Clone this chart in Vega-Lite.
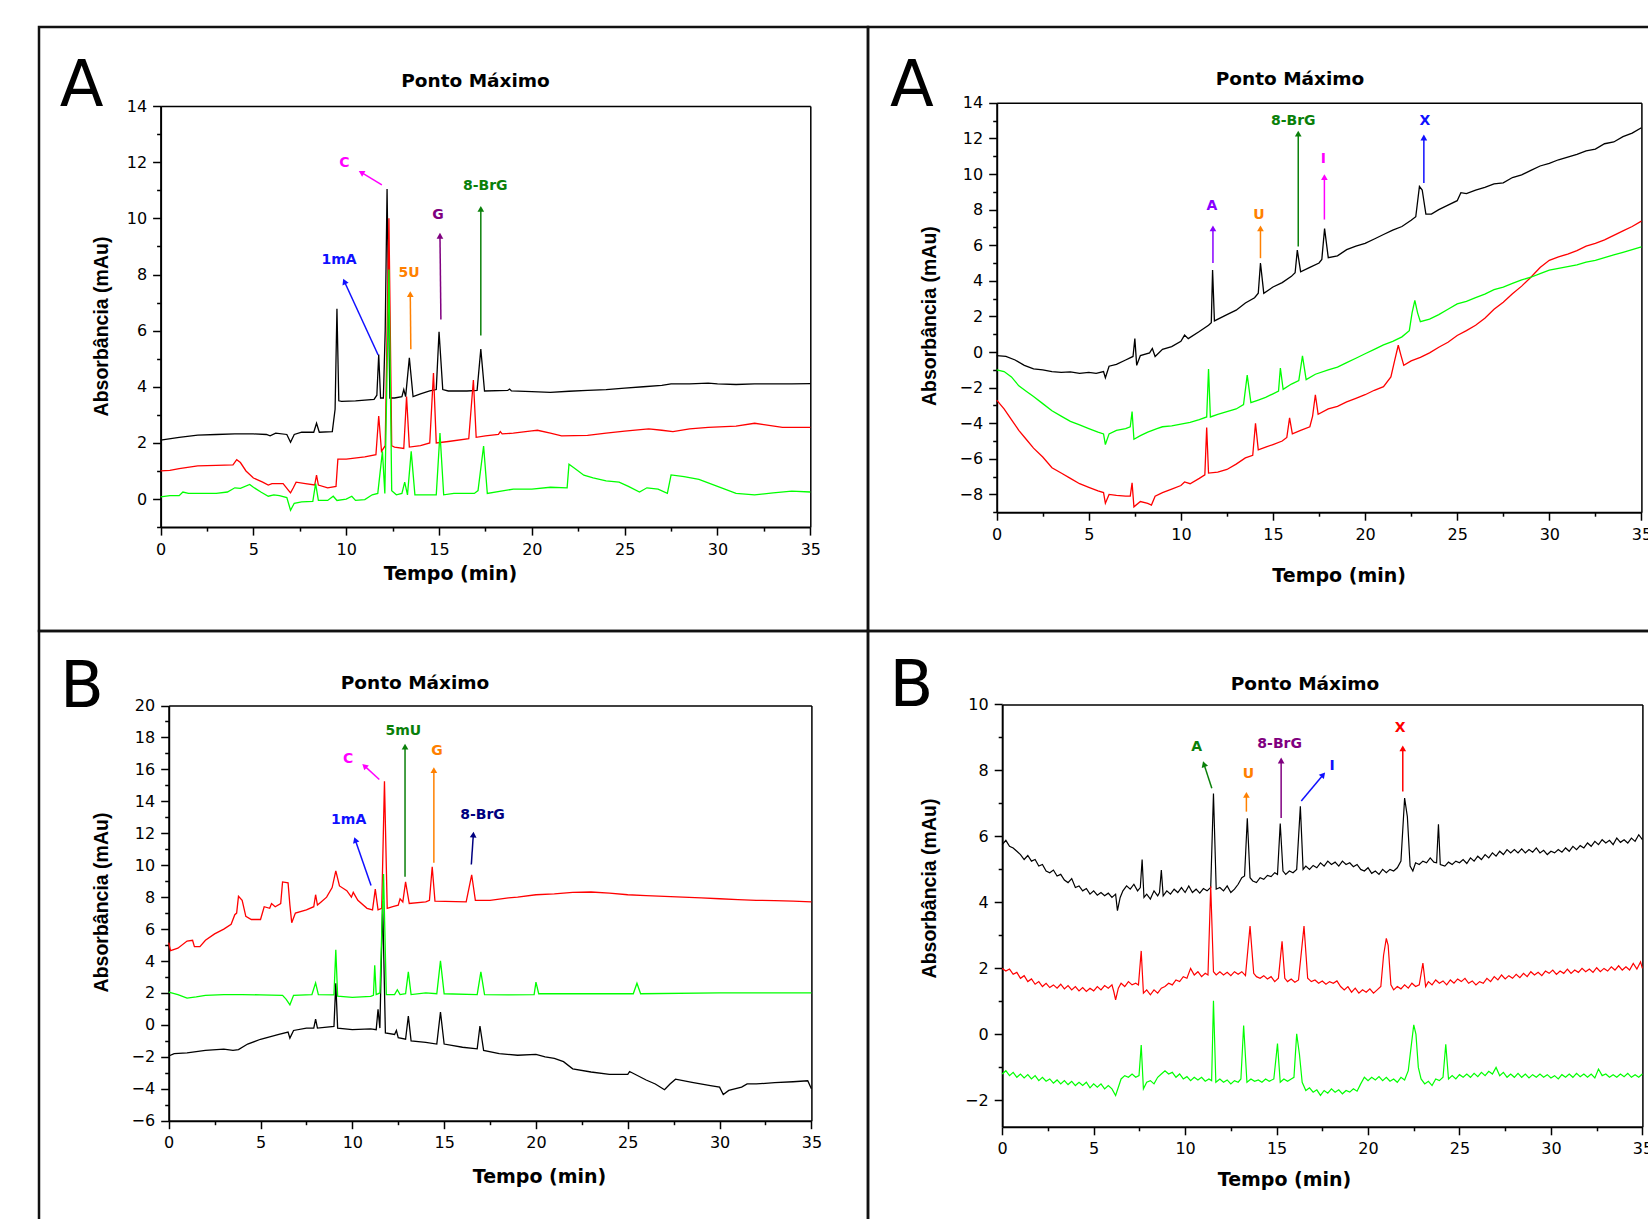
{
"$schema":"https://vega.github.io/schema/vega-lite/v6.json",
"padding":{"left":37,"top":25,"right":0,"bottom":0},
"background":"white",
"config":{
 "view":{"stroke":"#111111","strokeWidth":2.5},
 "concat":{"spacing":0},
 "axis":{"grid":false,"domainColor":"#000000","domainWidth":2,"tickColor":"#000000","tickWidth":1.5,"labelFont":"DejaVu Sans","labelFontSize":16,"labelColor":"#000000","labelFlush":false,"labelOverlap":false,"titleColor":"#000000"},
 "axisX":{"titleFont":"DejaVu Sans","titleFontSize":19,"titleFontWeight":"bold","titleBaseline":"alphabetic"},
 "axisY":{"titleFont":"Liberation Sans","titleFontSize":19.5,"titleFontWeight":"bold","titleBaseline":"alphabetic"},
 "title":{"font":"DejaVu Sans","fontSize":18.5,"fontWeight":"bold","color":"#000000","anchor":"middle","frame":"group","baseline":"alphabetic"},
 "text":{"font":"DejaVu Sans"}
},
"columns":2,
"spacing":0,
"bounds":"flush",
"concat":[
{
 "width":829,"height":604,
 "title":{"text":"Ponto Máximo","offset":-63,"dx":22},
 "layer":[
  {"data":{"name":"tl"},"mark":{"type":"line","strokeWidth":1.3},
   "encoding":{
    "x":{"field":"t","type":"quantitative","scale":{"domain":[0,35],"range":[121.6,771.3],"nice":false,"zero":false},"axis":{"orient":"bottom","offset":-103.9,"values":[0,5,10,15,20,25,30,35],"tickSize":8,"labelPadding":6,"title":"Tempo (min)","titleX":411,"titleY":52}},
    "y":{"field":"v","type":"quantitative","scale":{"domain":[-1,14],"range":[500.1,79.1],"nice":false,"zero":false},"axis":{"orient":"left","offset":-121.6,"values":[0,2,4,6,8,10,12,14],"tickSize":8,"labelPadding":6,"title":"Absorbância (mAu)","titleX":-53.6,"titleY":299}},
    "color":{"field":"s","type":"nominal","scale":{"domain":[1,2,3],"range":["#000000","#ff0000","#00ff00"]},"legend":null}}},
  {"data":{"name":"tlA"},"mark":{"type":"rule","strokeWidth":1.5},
   "encoding":{
    "x":{"field":"x1","type":"quantitative","scale":{"domain":[0,35],"range":[121.6,771.3],"nice":false,"zero":false},"axis":{"orient":"bottom","offset":-103.9,"values":[2.5,7.5,12.5,17.5,22.5,27.5,32.5],"tickSize":4,"labels":false,"domain":false,"title":null}},
    "y":{"field":"y1","type":"quantitative","scale":{"domain":[-1,14],"range":[500.1,79.1],"nice":false,"zero":false},"axis":{"orient":"left","offset":-121.6,"values":[-1,1,3,5,7,9,11,13],"tickSize":4,"labels":false,"domain":false,"title":null}},
    "x2":{"field":"x2"},"y2":{"field":"y2"},
    "color":{"field":"lab","type":"nominal","scale":{"domain":["C","1mA","5U","G","8-BrG"],"range":["#ff00ff","#1010ff","#ff8000","#800080","#0a800a"]},"legend":null}}},
  {"data":{"name":"tlA"},"mark":{"type":"text","fontWeight":"bold","fontSize":14,"baseline":"middle"},
   "encoding":{
    "x":{"field":"lx","type":"quantitative","scale":{"domain":[0,35],"range":[121.6,771.3],"nice":false,"zero":false},"axis":{"orient":"top","offset":-79.1,"ticks":false,"labels":false,"title":null,"domainWidth":1.5}},
    "y":{"field":"ly","type":"quantitative","scale":{"domain":[-1,14],"range":[500.1,79.1],"nice":false,"zero":false},"axis":{"orient":"right","offset":-57.7,"ticks":false,"labels":false,"title":null,"domainWidth":1.5}},
    "text":{"field":"lab"},
    "color":{"field":"lab","type":"nominal","scale":{"domain":["C","1mA","5U","G","8-BrG"],"range":["#ff00ff","#1010ff","#ff8000","#800080","#0a800a"]},"legend":null}}},
  {"data":{"name":"tlA"},"transform":[{"filter":{"field":"lab","oneOf":["5U","G","8-BrG"]}}],"mark":{"type":"point","shape":"triangle-up","filled":true,"size":45,"opacity":1},
   "encoding":{"x":{"field":"x2","type":"quantitative","scale":{"domain":[0,35],"range":[121.6,771.3],"nice":false,"zero":false},"axis":null},"y":{"field":"y2","type":"quantitative","scale":{"domain":[-1,14],"range":[500.1,79.1],"nice":false,"zero":false},"axis":null},"color":{"field":"lab","type":"nominal","scale":{"domain":["C","1mA","5U","G","8-BrG"],"range":["#ff00ff","#1010ff","#ff8000","#800080","#0a800a"]},"legend":null}}},
  {"data":{"name":"tlA"},"transform":[{"filter":{"field":"lab","equal":"C"}}],"mark":{"type":"point","shape":"triangle-up","filled":true,"size":45,"opacity":1,"angle":-60},
   "encoding":{"x":{"field":"x2","type":"quantitative","scale":{"domain":[0,35],"range":[121.6,771.3],"nice":false,"zero":false},"axis":null},"y":{"field":"y2","type":"quantitative","scale":{"domain":[-1,14],"range":[500.1,79.1],"nice":false,"zero":false},"axis":null},"color":{"field":"lab","type":"nominal","scale":{"domain":["C","1mA","5U","G","8-BrG"],"range":["#ff00ff","#1010ff","#ff8000","#800080","#0a800a"]},"legend":null}}},
  {"data":{"name":"tlA"},"transform":[{"filter":{"field":"lab","equal":"1mA"}}],"mark":{"type":"point","shape":"triangle-up","filled":true,"size":45,"opacity":1,"angle":-24},
   "encoding":{"x":{"field":"x2","type":"quantitative","scale":{"domain":[0,35],"range":[121.6,771.3],"nice":false,"zero":false},"axis":null},"y":{"field":"y2","type":"quantitative","scale":{"domain":[-1,14],"range":[500.1,79.1],"nice":false,"zero":false},"axis":null},"color":{"field":"lab","type":"nominal","scale":{"domain":["C","1mA","5U","G","8-BrG"],"range":["#ff00ff","#1010ff","#ff8000","#800080","#0a800a"]},"legend":null}}},
  {"data":{"values":[{"L":"A","x":-4.25,"y":14}]},"mark":{"type":"text","fontSize":64,"baseline":"alphabetic","color":"#000000"},
   "encoding":{"x":{"field":"x","type":"quantitative","scale":{"domain":[0,35],"range":[121.6,771.3],"nice":false,"zero":false},"axis":null},"y":{"field":"y","type":"quantitative","scale":{"domain":[-1,14],"range":[500.1,79.1],"nice":false,"zero":false},"axis":null},"text":{"field":"L"}}}
 ],
 "resolve":{"scale":{"color":"independent"},"axis":{"x":"independent","y":"independent"}}
},
{
 "width":829,"height":604,
 "title":{"text":"Ponto Máximo","offset":-61,"dx":7.5},
 "layer":[
  {"data":{"name":"tr"},"mark":{"type":"line","strokeWidth":1.3},
   "encoding":{
    "x":{"field":"t","type":"quantitative","scale":{"domain":[0,35],"range":[128.7,773.4],"nice":false,"zero":false},"axis":{"orient":"bottom","offset":-118.8,"values":[0,5,10,15,20,25,30,35],"tickSize":8,"labelPadding":6,"title":"Tempo (min)","titleX":470.6,"titleY":69}},
    "y":{"field":"v","type":"quantitative","scale":{"domain":[-9,14],"range":[485.2,75.8],"nice":false,"zero":false},"axis":{"orient":"left","offset":-128.7,"values":[-8,-6,-4,-2,0,2,4,6,8,10,12,14],"tickSize":8,"labelPadding":6,"title":"Absorbância (mAu)","titleX":-61.7,"titleY":288.6}},
    "color":{"field":"s","type":"nominal","scale":{"domain":[1,2,3],"range":["#000000","#ff0000","#00ff00"]},"legend":null}}},
  {"data":{"name":"trA"},"mark":{"type":"rule","strokeWidth":1.5},
   "encoding":{
    "x":{"field":"x1","type":"quantitative","scale":{"domain":[0,35],"range":[128.7,773.4],"nice":false,"zero":false},"axis":{"orient":"bottom","offset":-118.8,"values":[2.5,7.5,12.5,17.5,22.5,27.5,32.5],"tickSize":4,"labels":false,"domain":false,"title":null}},
    "y":{"field":"y1","type":"quantitative","scale":{"domain":[-9,14],"range":[485.2,75.8],"nice":false,"zero":false},"axis":{"orient":"left","offset":-128.7,"values":[-9,-7,-5,-3,-1,1,3,5,7,9,11,13],"tickSize":4,"labels":false,"domain":false,"title":null}},
    "x2":{"field":"x2"},"y2":{"field":"y2"},
    "color":{"field":"lab","type":"nominal","scale":{"domain":["A","U","8-BrG","I","X"],"range":["#8800ff","#ff8000","#0a800a","#ff00ff","#1010ff"]},"legend":null}}},
  {"data":{"name":"trA"},"mark":{"type":"text","fontWeight":"bold","fontSize":14,"baseline":"middle"},
   "encoding":{
    "x":{"field":"lx","type":"quantitative","scale":{"domain":[0,35],"range":[128.7,773.4],"nice":false,"zero":false},"axis":{"orient":"top","offset":-75.8,"ticks":false,"labels":false,"title":null,"domainWidth":1.5}},
    "y":{"field":"ly","type":"quantitative","scale":{"domain":[-9,14],"range":[485.2,75.8],"nice":false,"zero":false},"axis":{"orient":"right","offset":-55.6,"ticks":false,"labels":false,"title":null,"domainWidth":1.5}},
    "text":{"field":"lab"},
    "color":{"field":"lab","type":"nominal","scale":{"domain":["A","U","8-BrG","I","X"],"range":["#8800ff","#ff8000","#0a800a","#ff00ff","#1010ff"]},"legend":null}}},
  {"data":{"name":"trA"},"mark":{"type":"point","shape":"triangle-up","filled":true,"size":45,"opacity":1},
   "encoding":{"x":{"field":"x2","type":"quantitative","scale":{"domain":[0,35],"range":[128.7,773.4],"nice":false,"zero":false},"axis":null},"y":{"field":"y2","type":"quantitative","scale":{"domain":[-9,14],"range":[485.2,75.8],"nice":false,"zero":false},"axis":null},"color":{"field":"lab","type":"nominal","scale":{"domain":["A","U","8-BrG","I","X"],"range":["#8800ff","#ff8000","#0a800a","#ff00ff","#1010ff"]},"legend":null}}},
  {"data":{"values":[{"L":"A","x":-4.6,"y":13.82}]},"mark":{"type":"text","fontSize":64,"baseline":"alphabetic","color":"#000000"},
   "encoding":{"x":{"field":"x","type":"quantitative","scale":{"domain":[0,35],"range":[128.7,773.4],"nice":false,"zero":false},"axis":null},"y":{"field":"y","type":"quantitative","scale":{"domain":[-9,14],"range":[485.2,75.8],"nice":false,"zero":false},"axis":null},"text":{"field":"L"}}}
 ],
 "resolve":{"scale":{"color":"independent"},"axis":{"x":"independent","y":"independent"}}
},
{
 "width":829,"height":604,
 "title":{"text":"Ponto Máximo","offset":-61,"dx":-38.5},
 "layer":[
  {"data":{"name":"bl"},"mark":{"type":"line","strokeWidth":1.3},
   "encoding":{
    "x":{"field":"t","type":"quantitative","scale":{"domain":[0,35],"range":[129.7,772.4],"nice":false,"zero":false},"axis":{"orient":"bottom","offset":-114.3,"values":[0,5,10,15,20,25,30,35],"tickSize":8,"labelPadding":6,"title":"Tempo (min)","titleX":500,"titleY":62}},
    "y":{"field":"v","type":"quantitative","scale":{"domain":[-6,20],"range":[489.7,74.5],"nice":false,"zero":false},"axis":{"orient":"left","offset":-129.7,"values":[-6,-4,-2,0,2,4,6,8,10,12,14,16,18,20],"tickSize":8,"labelPadding":6,"title":"Absorbância (mAu)","titleX":-61.7,"titleY":271}},
    "color":{"field":"s","type":"nominal","scale":{"domain":[1,2,3],"range":["#000000","#ff0000","#00ff00"]},"legend":null}}},
  {"data":{"name":"blA"},"mark":{"type":"rule","strokeWidth":1.5},
   "encoding":{
    "x":{"field":"x1","type":"quantitative","scale":{"domain":[0,35],"range":[129.7,772.4],"nice":false,"zero":false},"axis":{"orient":"bottom","offset":-114.3,"values":[2.5,7.5,12.5,17.5,22.5,27.5,32.5],"tickSize":4,"labels":false,"domain":false,"title":null}},
    "y":{"field":"y1","type":"quantitative","scale":{"domain":[-6,20],"range":[489.7,74.5],"nice":false,"zero":false},"axis":{"orient":"left","offset":-129.7,"values":[-5,-3,-1,1,3,5,7,9,11,13,15,17,19],"tickSize":4,"labels":false,"domain":false,"title":null}},
    "x2":{"field":"x2"},"y2":{"field":"y2"},
    "color":{"field":"lab","type":"nominal","scale":{"domain":["C","1mA","5mU","G","8-BrG"],"range":["#ff00ff","#1010ff","#0a800a","#ff8000","#000080"]},"legend":null}}},
  {"data":{"name":"blA"},"mark":{"type":"text","fontWeight":"bold","fontSize":14,"baseline":"middle"},
   "encoding":{
    "x":{"field":"lx","type":"quantitative","scale":{"domain":[0,35],"range":[129.7,772.4],"nice":false,"zero":false},"axis":{"orient":"top","offset":-74.5,"ticks":false,"labels":false,"title":null,"domainWidth":1.5}},
    "y":{"field":"ly","type":"quantitative","scale":{"domain":[-6,20],"range":[489.7,74.5],"nice":false,"zero":false},"axis":{"orient":"right","offset":-56.6,"ticks":false,"labels":false,"title":null,"domainWidth":1.5}},
    "text":{"field":"lab"},
    "color":{"field":"lab","type":"nominal","scale":{"domain":["C","1mA","5mU","G","8-BrG"],"range":["#ff00ff","#1010ff","#0a800a","#ff8000","#000080"]},"legend":null}}},
  {"data":{"name":"blA"},"transform":[{"filter":{"field":"lab","oneOf":["5mU","G"]}}],"mark":{"type":"point","shape":"triangle-up","filled":true,"size":45,"opacity":1},
   "encoding":{"x":{"field":"x2","type":"quantitative","scale":{"domain":[0,35],"range":[129.7,772.4],"nice":false,"zero":false},"axis":null},"y":{"field":"y2","type":"quantitative","scale":{"domain":[-6,20],"range":[489.7,74.5],"nice":false,"zero":false},"axis":null},"color":{"field":"lab","type":"nominal","scale":{"domain":["C","1mA","5mU","G","8-BrG"],"range":["#ff00ff","#1010ff","#0a800a","#ff8000","#000080"]},"legend":null}}},
  {"data":{"name":"blA"},"transform":[{"filter":{"field":"lab","equal":"C"}}],"mark":{"type":"point","shape":"triangle-up","filled":true,"size":45,"opacity":1,"angle":-47},
   "encoding":{"x":{"field":"x2","type":"quantitative","scale":{"domain":[0,35],"range":[129.7,772.4],"nice":false,"zero":false},"axis":null},"y":{"field":"y2","type":"quantitative","scale":{"domain":[-6,20],"range":[489.7,74.5],"nice":false,"zero":false},"axis":null},"color":{"field":"lab","type":"nominal","scale":{"domain":["C","1mA","5mU","G","8-BrG"],"range":["#ff00ff","#1010ff","#0a800a","#ff8000","#000080"]},"legend":null}}},
  {"data":{"name":"blA"},"transform":[{"filter":{"field":"lab","equal":"1mA"}}],"mark":{"type":"point","shape":"triangle-up","filled":true,"size":45,"opacity":1,"angle":-19},
   "encoding":{"x":{"field":"x2","type":"quantitative","scale":{"domain":[0,35],"range":[129.7,772.4],"nice":false,"zero":false},"axis":null},"y":{"field":"y2","type":"quantitative","scale":{"domain":[-6,20],"range":[489.7,74.5],"nice":false,"zero":false},"axis":null},"color":{"field":"lab","type":"nominal","scale":{"domain":["C","1mA","5mU","G","8-BrG"],"range":["#ff00ff","#1010ff","#0a800a","#ff8000","#000080"]},"legend":null}}},
  {"data":{"name":"blA"},"transform":[{"filter":{"field":"lab","equal":"8-BrG"}}],"mark":{"type":"point","shape":"triangle-up","filled":true,"size":45,"opacity":1,"angle":4},
   "encoding":{"x":{"field":"x2","type":"quantitative","scale":{"domain":[0,35],"range":[129.7,772.4],"nice":false,"zero":false},"axis":null},"y":{"field":"y2","type":"quantitative","scale":{"domain":[-6,20],"range":[489.7,74.5],"nice":false,"zero":false},"axis":null},"color":{"field":"lab","type":"nominal","scale":{"domain":["C","1mA","5mU","G","8-BrG"],"range":["#ff00ff","#1010ff","#0a800a","#ff8000","#000080"]},"legend":null}}},
  {"data":{"values":[{"L":"B","x":-4.72,"y":19.9}]},"mark":{"type":"text","fontSize":64,"baseline":"alphabetic","color":"#000000"},
   "encoding":{"x":{"field":"x","type":"quantitative","scale":{"domain":[0,35],"range":[129.7,772.4],"nice":false,"zero":false},"axis":null},"y":{"field":"y","type":"quantitative","scale":{"domain":[-6,20],"range":[489.7,74.5],"nice":false,"zero":false},"axis":null},"text":{"field":"L"}}}
 ],
 "resolve":{"scale":{"color":"independent"},"axis":{"x":"independent","y":"independent"}}
},
{
 "width":829,"height":604,
 "title":{"text":"Ponto Máximo","offset":-62,"dx":22.5},
 "layer":[
  {"data":{"name":"br"},"mark":{"type":"line","strokeWidth":1.2},
   "encoding":{
    "x":{"field":"t","type":"quantitative","scale":{"domain":[0,35],"range":[134.2,774.4],"nice":false,"zero":false},"axis":{"orient":"bottom","offset":-108.2,"values":[0,5,10,15,20,25,30,35],"tickSize":8,"labelPadding":6,"title":"Tempo (min)","titleX":416,"titleY":59}},
    "y":{"field":"v","type":"quantitative","scale":{"domain":[-2.8,10],"range":[495.8,73.4],"nice":false,"zero":false},"axis":{"orient":"left","offset":-134.2,"values":[-2,0,2,4,6,8,10],"tickSize":8,"labelPadding":6,"title":"Absorbância (mAu)","titleX":-67.2,"titleY":257}},
    "color":{"field":"s","type":"nominal","scale":{"domain":[1,2,3],"range":["#000000","#ff0000","#00ff00"]},"legend":null}}},
  {"data":{"name":"brA"},"mark":{"type":"rule","strokeWidth":1.5},
   "encoding":{
    "x":{"field":"x1","type":"quantitative","scale":{"domain":[0,35],"range":[134.2,774.4],"nice":false,"zero":false},"axis":{"orient":"bottom","offset":-108.2,"values":[2.5,7.5,12.5,17.5,22.5,27.5,32.5],"tickSize":4,"labels":false,"domain":false,"title":null}},
    "y":{"field":"y1","type":"quantitative","scale":{"domain":[-2.8,10],"range":[495.8,73.4],"nice":false,"zero":false},"axis":{"orient":"left","offset":-134.2,"values":[-1,1,3,5,7,9],"tickSize":4,"labels":false,"domain":false,"title":null}},
    "x2":{"field":"x2"},"y2":{"field":"y2"},
    "color":{"field":"lab","type":"nominal","scale":{"domain":["A","U","8-BrG","I","X"],"range":["#0a800a","#ff8000","#800080","#1010ff","#ff0000"]},"legend":null}}},
  {"data":{"name":"brA"},"mark":{"type":"text","fontWeight":"bold","fontSize":14,"baseline":"middle"},
   "encoding":{
    "x":{"field":"lx","type":"quantitative","scale":{"domain":[0,35],"range":[134.2,774.4],"nice":false,"zero":false},"axis":{"orient":"top","offset":-73.4,"ticks":false,"labels":false,"title":null,"domainWidth":1.5}},
    "y":{"field":"ly","type":"quantitative","scale":{"domain":[-2.8,10],"range":[495.8,73.4],"nice":false,"zero":false},"axis":{"orient":"right","offset":-54.6,"ticks":false,"labels":false,"title":null,"domainWidth":1.5}},
    "text":{"field":"lab"},
    "color":{"field":"lab","type":"nominal","scale":{"domain":["A","U","8-BrG","I","X"],"range":["#0a800a","#ff8000","#800080","#1010ff","#ff0000"]},"legend":null}}},
  {"data":{"name":"brA"},"transform":[{"filter":{"field":"lab","oneOf":["U","8-BrG","X"]}}],"mark":{"type":"point","shape":"triangle-up","filled":true,"size":45,"opacity":1},
   "encoding":{"x":{"field":"x2","type":"quantitative","scale":{"domain":[0,35],"range":[134.2,774.4],"nice":false,"zero":false},"axis":null},"y":{"field":"y2","type":"quantitative","scale":{"domain":[-2.8,10],"range":[495.8,73.4],"nice":false,"zero":false},"axis":null},"color":{"field":"lab","type":"nominal","scale":{"domain":["A","U","8-BrG","I","X"],"range":["#0a800a","#ff8000","#800080","#1010ff","#ff0000"]},"legend":null}}},
  {"data":{"name":"brA"},"transform":[{"filter":{"field":"lab","equal":"A"}}],"mark":{"type":"point","shape":"triangle-up","filled":true,"size":45,"opacity":1,"angle":-18},
   "encoding":{"x":{"field":"x2","type":"quantitative","scale":{"domain":[0,35],"range":[134.2,774.4],"nice":false,"zero":false},"axis":null},"y":{"field":"y2","type":"quantitative","scale":{"domain":[-2.8,10],"range":[495.8,73.4],"nice":false,"zero":false},"axis":null},"color":{"field":"lab","type":"nominal","scale":{"domain":["A","U","8-BrG","I","X"],"range":["#0a800a","#ff8000","#800080","#1010ff","#ff0000"]},"legend":null}}},
  {"data":{"name":"brA"},"transform":[{"filter":{"field":"lab","equal":"I"}}],"mark":{"type":"point","shape":"triangle-up","filled":true,"size":45,"opacity":1,"angle":40},
   "encoding":{"x":{"field":"x2","type":"quantitative","scale":{"domain":[0,35],"range":[134.2,774.4],"nice":false,"zero":false},"axis":null},"y":{"field":"y2","type":"quantitative","scale":{"domain":[-2.8,10],"range":[495.8,73.4],"nice":false,"zero":false},"axis":null},"color":{"field":"lab","type":"nominal","scale":{"domain":["A","U","8-BrG","I","X"],"range":["#0a800a","#ff8000","#800080","#1010ff","#ff0000"]},"legend":null}}},
  {"data":{"values":[{"L":"B","x":-4.96,"y":9.95}]},"mark":{"type":"text","fontSize":64,"baseline":"alphabetic","color":"#000000"},
   "encoding":{"x":{"field":"x","type":"quantitative","scale":{"domain":[0,35],"range":[134.2,774.4],"nice":false,"zero":false},"axis":null},"y":{"field":"y","type":"quantitative","scale":{"domain":[-2.8,10],"range":[495.8,73.4],"nice":false,"zero":false},"axis":null},"text":{"field":"L"}}}
 ],
 "resolve":{"scale":{"color":"independent"},"axis":{"x":"independent","y":"independent"}}
}
],
"datasets":{
"tlA":[
{"lab":"C","lx":9.9,"ly":11.99,"x1":11.92,"y1":11.19,"x2":10.81,"y2":11.64},
{"lab":"1mA","lx":9.61,"ly":8.51,"x1":11.72,"y1":5.13,"x2":9.9,"y2":7.75},
{"lab":"5U","lx":13.39,"ly":8.04,"x1":13.48,"y1":5.34,"x2":13.45,"y2":7.3},
{"lab":"G","lx":14.95,"ly":10.13,"x1":15.1,"y1":6.4,"x2":15.05,"y2":9.38},
{"lab":"8-BrG","lx":17.49,"ly":11.14,"x1":17.25,"y1":5.83,"x2":17.25,"y2":10.34}
],
"trA":[
{"lab":"A","lx":11.68,"ly":8.2,"x1":11.74,"y1":5.0,"x2":11.74,"y2":6.94},
{"lab":"U","lx":14.24,"ly":7.71,"x1":14.32,"y1":5.27,"x2":14.32,"y2":6.94},
{"lab":"8-BrG","lx":16.1,"ly":12.98,"x1":16.37,"y1":5.93,"x2":16.37,"y2":12.27},
{"lab":"I","lx":17.73,"ly":10.87,"x1":17.79,"y1":7.44,"x2":17.79,"y2":9.82},
{"lab":"X","lx":23.24,"ly":12.98,"x1":23.19,"y1":9.49,"x2":23.19,"y2":12.05}
],
"blA":[
{"lab":"C","lx":9.77,"ly":16.68,"x1":11.47,"y1":15.37,"x2":10.66,"y2":16.22},
{"lab":"1mA","lx":9.8,"ly":12.84,"x1":11.02,"y1":8.73,"x2":10.16,"y2":11.58},
{"lab":"5mU","lx":12.78,"ly":18.43,"x1":12.87,"y1":9.27,"x2":12.87,"y2":17.42},
{"lab":"G","lx":14.61,"ly":17.15,"x1":14.44,"y1":10.16,"x2":14.44,"y2":15.95},
{"lab":"8-BrG","lx":17.09,"ly":13.12,"x1":16.48,"y1":10.04,"x2":16.59,"y2":11.92}
],
"brA":[
{"lab":"A","lx":10.63,"ly":8.7,"x1":11.46,"y1":7.46,"x2":11.03,"y2":8.19},
{"lab":"U","lx":13.46,"ly":7.9,"x1":13.35,"y1":6.75,"x2":13.35,"y2":7.26},
{"lab":"8-BrG","lx":15.17,"ly":8.79,"x1":15.25,"y1":6.56,"x2":15.25,"y2":8.3},
{"lab":"I","lx":18.03,"ly":8.13,"x1":16.35,"y1":7.07,"x2":17.55,"y2":7.87},
{"lab":"X","lx":21.76,"ly":9.28,"x1":21.9,"y1":7.36,"x2":21.9,"y2":8.67}
],
"tl":[
{"s":1,"t":0,"v":2.1},{"s":1,"t":1,"v":2.2},{"s":1,"t":2,"v":2.28},{"s":1,"t":3,"v":2.3},{"s":1,"t":4,"v":2.32},{"s":1,"t":5,"v":2.32},{"s":1,"t":5.7,"v":2.3},{"s":1,"t":5.9,"v":2.25},{"s":1,"t":6.2,"v":2.35},{"s":1,"t":6.8,"v":2.3},{"s":1,"t":7.0,"v":2.02},{"s":1,"t":7.2,"v":2.3},{"s":1,"t":7.6,"v":2.38},{"s":1,"t":8.25,"v":2.38},{"s":1,"t":8.4,"v":2.7},{"s":1,"t":8.55,"v":2.38},{"s":1,"t":9.25,"v":2.4},{"s":1,"t":9.4,"v":3.2},{"s":1,"t":9.5,"v":6.78},{"s":1,"t":9.6,"v":3.5},{"s":1,"t":9.75,"v":3.48},{"s":1,"t":10.5,"v":3.5},{"s":1,"t":11.5,"v":3.55},{"s":1,"t":11.65,"v":3.7},{"s":1,"t":11.75,"v":5.15},{"s":1,"t":11.85,"v":3.6},{"s":1,"t":12.0,"v":3.6},{"s":1,"t":12.1,"v":6.0},{"s":1,"t":12.2,"v":11.05},{"s":1,"t":12.35,"v":3.6},{"s":1,"t":12.6,"v":3.6},{"s":1,"t":13.0,"v":3.65},{"s":1,"t":13.1,"v":3.9},{"s":1,"t":13.2,"v":3.65},{"s":1,"t":13.4,"v":5.03},{"s":1,"t":13.6,"v":3.65},{"s":1,"t":14.0,"v":3.75},{"s":1,"t":14.5,"v":3.85},{"s":1,"t":14.85,"v":3.9},{"s":1,"t":15.0,"v":5.96},{"s":1,"t":15.2,"v":3.9},{"s":1,"t":15.5,"v":3.85},{"s":1,"t":16.5,"v":3.85},{"s":1,"t":17.05,"v":3.87},{"s":1,"t":17.25,"v":5.34},{"s":1,"t":17.45,"v":3.85},{"s":1,"t":18.7,"v":3.87},{"s":1,"t":18.8,"v":3.92},{"s":1,"t":18.9,"v":3.85},{"s":1,"t":20,"v":3.83},{"s":1,"t":21,"v":3.8},{"s":1,"t":22,"v":3.84},{"s":1,"t":23,"v":3.87},{"s":1,"t":24,"v":3.9},{"s":1,"t":25,"v":3.95},{"s":1,"t":26,"v":4.0},{"s":1,"t":27,"v":4.05},{"s":1,"t":27.5,"v":4.1},{"s":1,"t":28.5,"v":4.1},{"s":1,"t":29.5,"v":4.13},{"s":1,"t":30,"v":4.1},{"s":1,"t":31,"v":4.08},{"s":1,"t":32,"v":4.1},{"s":1,"t":33,"v":4.1},{"s":1,"t":34,"v":4.1},{"s":1,"t":35,"v":4.11},
{"s":2,"t":0,"v":1.0},{"s":2,"t":0.5,"v":1.02},{"s":2,"t":1,"v":1.08},{"s":2,"t":2,"v":1.18},{"s":2,"t":3,"v":1.2},{"s":2,"t":3.9,"v":1.22},{"s":2,"t":4.1,"v":1.4},{"s":2,"t":4.3,"v":1.3},{"s":2,"t":4.6,"v":1.0},{"s":2,"t":5.0,"v":0.75},{"s":2,"t":5.5,"v":0.6},{"s":2,"t":5.8,"v":0.5},{"s":2,"t":6.0,"v":0.55},{"s":2,"t":6.6,"v":0.55},{"s":2,"t":6.9,"v":0.3},{"s":2,"t":7.0,"v":0.22},{"s":2,"t":7.15,"v":0.4},{"s":2,"t":7.3,"v":0.6},{"s":2,"t":7.8,"v":0.55},{"s":2,"t":8.3,"v":0.5},{"s":2,"t":8.4,"v":0.85},{"s":2,"t":8.5,"v":0.5},{"s":2,"t":9.0,"v":0.4},{"s":2,"t":9.45,"v":0.45},{"s":2,"t":9.55,"v":1.42},{"s":2,"t":10,"v":1.42},{"s":2,"t":11,"v":1.5},{"s":2,"t":11.6,"v":1.58},{"s":2,"t":11.75,"v":2.96},{"s":2,"t":11.9,"v":1.7},{"s":2,"t":12.1,"v":1.9},{"s":2,"t":12.3,"v":10.0},{"s":2,"t":12.45,"v":1.9},{"s":2,"t":12.6,"v":1.85},{"s":2,"t":13.1,"v":1.8},{"s":2,"t":13.25,"v":3.65},{"s":2,"t":13.4,"v":1.85},{"s":2,"t":14.0,"v":1.9},{"s":2,"t":14.5,"v":2.0},{"s":2,"t":14.7,"v":4.49},{"s":2,"t":14.85,"v":2.0},{"s":2,"t":15.5,"v":2.05},{"s":2,"t":16.6,"v":2.15},{"s":2,"t":16.85,"v":4.24},{"s":2,"t":17.0,"v":2.2},{"s":2,"t":17.5,"v":2.25},{"s":2,"t":18.2,"v":2.3},{"s":2,"t":18.3,"v":2.4},{"s":2,"t":18.4,"v":2.32},{"s":2,"t":19,"v":2.35},{"s":2,"t":20,"v":2.43},{"s":2,"t":20.3,"v":2.45},{"s":2,"t":21,"v":2.35},{"s":2,"t":21.6,"v":2.25},{"s":2,"t":23,"v":2.27},{"s":2,"t":24,"v":2.35},{"s":2,"t":25,"v":2.42},{"s":2,"t":26,"v":2.48},{"s":2,"t":26.3,"v":2.5},{"s":2,"t":27,"v":2.45},{"s":2,"t":27.6,"v":2.4},{"s":2,"t":28.5,"v":2.5},{"s":2,"t":29.5,"v":2.55},{"s":2,"t":31,"v":2.6},{"s":2,"t":32,"v":2.7},{"s":2,"t":32.5,"v":2.65},{"s":2,"t":33.5,"v":2.55},{"s":2,"t":35,"v":2.55},
{"s":3,"t":0,"v":0.08},{"s":3,"t":0.5,"v":0.12},{"s":3,"t":1,"v":0.12},{"s":3,"t":1.2,"v":0.25},{"s":3,"t":1.5,"v":0.2},{"s":3,"t":2,"v":0.2},{"s":3,"t":3,"v":0.2},{"s":3,"t":3.6,"v":0.25},{"s":3,"t":4.0,"v":0.4},{"s":3,"t":4.3,"v":0.38},{"s":3,"t":4.8,"v":0.52},{"s":3,"t":5.0,"v":0.42},{"s":3,"t":5.4,"v":0.25},{"s":3,"t":5.8,"v":0.1},{"s":3,"t":6.1,"v":0.15},{"s":3,"t":6.4,"v":0.12},{"s":3,"t":6.8,"v":0.05},{"s":3,"t":7.0,"v":-0.4},{"s":3,"t":7.2,"v":-0.15},{"s":3,"t":7.6,"v":-0.1},{"s":3,"t":8.2,"v":-0.08},{"s":3,"t":8.35,"v":0.55},{"s":3,"t":8.5,"v":-0.05},{"s":3,"t":9.0,"v":-0.05},{"s":3,"t":9.3,"v":0.1},{"s":3,"t":9.5,"v":-0.05},{"s":3,"t":10,"v":0.0},{"s":3,"t":10.3,"v":0.1},{"s":3,"t":10.5,"v":-0.05},{"s":3,"t":11,"v":-0.02},{"s":3,"t":11.4,"v":0.15},{"s":3,"t":11.7,"v":0.2},{"s":3,"t":11.95,"v":1.7},{"s":3,"t":12.08,"v":0.2},{"s":3,"t":12.3,"v":8.18},{"s":3,"t":12.45,"v":0.3},{"s":3,"t":12.7,"v":0.15},{"s":3,"t":13.0,"v":0.2},{"s":3,"t":13.15,"v":0.6},{"s":3,"t":13.3,"v":0.15},{"s":3,"t":13.5,"v":1.7},{"s":3,"t":13.7,"v":0.15},{"s":3,"t":14.3,"v":0.15},{"s":3,"t":14.85,"v":0.15},{"s":3,"t":15.05,"v":2.35},{"s":3,"t":15.25,"v":0.15},{"s":3,"t":15.8,"v":0.2},{"s":3,"t":16.5,"v":0.2},{"s":3,"t":16.9,"v":0.2},{"s":3,"t":17.1,"v":0.3},{"s":3,"t":17.4,"v":1.89},{"s":3,"t":17.6,"v":0.2},{"s":3,"t":18.5,"v":0.3},{"s":3,"t":19,"v":0.35},{"s":3,"t":20,"v":0.35},{"s":3,"t":21,"v":0.42},{"s":3,"t":21.9,"v":0.4},{"s":3,"t":22.0,"v":1.24},{"s":3,"t":22.3,"v":1.1},{"s":3,"t":22.8,"v":0.85},{"s":3,"t":23.3,"v":0.75},{"s":3,"t":24,"v":0.65},{"s":3,"t":24.7,"v":0.6},{"s":3,"t":25.2,"v":0.45},{"s":3,"t":25.8,"v":0.25},{"s":3,"t":26.2,"v":0.4},{"s":3,"t":26.8,"v":0.35},{"s":3,"t":27.3,"v":0.2},{"s":3,"t":27.5,"v":0.86},{"s":3,"t":28.2,"v":0.8},{"s":3,"t":29,"v":0.7},{"s":3,"t":30,"v":0.45},{"s":3,"t":31,"v":0.2},{"s":3,"t":32,"v":0.15},{"s":3,"t":33,"v":0.22},{"s":3,"t":34,"v":0.28},{"s":3,"t":35,"v":0.25}
],
"tr":[
{"s":1,"t":0,"v":-0.2},{"s":1,"t":0.5,"v":-0.25},{"s":1,"t":1,"v":-0.45},{"s":1,"t":1.5,"v":-0.75},{"s":1,"t":2,"v":-0.95},{"s":1,"t":2.5,"v":-1.0},{"s":1,"t":3,"v":-1.1},{"s":1,"t":3.5,"v":-1.15},{"s":1,"t":4,"v":-1.12},{"s":1,"t":4.5,"v":-1.2},{"s":1,"t":5,"v":-1.15},{"s":1,"t":5.4,"v":-1.2},{"s":1,"t":5.8,"v":-1.1},{"s":1,"t":5.9,"v":-1.45},{"s":1,"t":6.1,"v":-0.8},{"s":1,"t":6.5,"v":-0.7},{"s":1,"t":7,"v":-0.45},{"s":1,"t":7.4,"v":-0.25},{"s":1,"t":7.5,"v":0.75},{"s":1,"t":7.6,"v":-0.75},{"s":1,"t":7.8,"v":-0.2},{"s":1,"t":8.3,"v":-0.05},{"s":1,"t":8.45,"v":0.2},{"s":1,"t":8.6,"v":-0.25},{"s":1,"t":9,"v":0.15},{"s":1,"t":9.5,"v":0.3},{"s":1,"t":10,"v":0.6},{"s":1,"t":10.2,"v":0.95},{"s":1,"t":10.4,"v":0.75},{"s":1,"t":11,"v":1.15},{"s":1,"t":11.5,"v":1.5},{"s":1,"t":11.65,"v":1.65},{"s":1,"t":11.72,"v":4.6},{"s":1,"t":11.82,"v":1.75},{"s":1,"t":12.5,"v":2.1},{"s":1,"t":13,"v":2.35},{"s":1,"t":13.5,"v":2.75},{"s":1,"t":14,"v":3.05},{"s":1,"t":14.2,"v":3.3},{"s":1,"t":14.32,"v":5.0},{"s":1,"t":14.5,"v":3.3},{"s":1,"t":15,"v":3.65},{"s":1,"t":15.5,"v":3.9},{"s":1,"t":16,"v":4.25},{"s":1,"t":16.2,"v":4.45},{"s":1,"t":16.32,"v":5.72},{"s":1,"t":16.5,"v":4.5},{"s":1,"t":17,"v":4.75},{"s":1,"t":17.5,"v":5.0},{"s":1,"t":17.65,"v":5.2},{"s":1,"t":17.8,"v":6.93},{"s":1,"t":18,"v":5.3},{"s":1,"t":18.5,"v":5.4},{"s":1,"t":19,"v":5.75},{"s":1,"t":19.5,"v":5.95},{"s":1,"t":20,"v":6.1},{"s":1,"t":20.5,"v":6.35},{"s":1,"t":21,"v":6.6},{"s":1,"t":21.5,"v":6.85},{"s":1,"t":22,"v":7.05},{"s":1,"t":22.5,"v":7.4},{"s":1,"t":22.75,"v":7.6},{"s":1,"t":22.95,"v":9.3},{"s":1,"t":23.1,"v":9.1},{"s":1,"t":23.3,"v":7.75},{"s":1,"t":23.6,"v":7.75},{"s":1,"t":24,"v":8.0},{"s":1,"t":24.5,"v":8.25},{"s":1,"t":25,"v":8.5},{"s":1,"t":25.2,"v":8.95},{"s":1,"t":25.5,"v":8.9},{"s":1,"t":26,"v":9.1},{"s":1,"t":26.5,"v":9.25},{"s":1,"t":27,"v":9.45},{"s":1,"t":27.5,"v":9.5},{"s":1,"t":28,"v":9.8},{"s":1,"t":28.5,"v":9.95},{"s":1,"t":29,"v":10.2},{"s":1,"t":29.5,"v":10.45},{"s":1,"t":30,"v":10.6},{"s":1,"t":30.5,"v":10.8},{"s":1,"t":31,"v":10.95},{"s":1,"t":31.5,"v":11.1},{"s":1,"t":32,"v":11.3},{"s":1,"t":32.5,"v":11.4},{"s":1,"t":33,"v":11.7},{"s":1,"t":33.5,"v":11.8},{"s":1,"t":34,"v":12.1},{"s":1,"t":34.5,"v":12.3},{"s":1,"t":35,"v":12.6},
{"s":2,"t":0,"v":-2.7},{"s":2,"t":0.4,"v":-3.2},{"s":2,"t":0.8,"v":-3.8},{"s":2,"t":1.2,"v":-4.4},{"s":2,"t":1.6,"v":-4.9},{"s":2,"t":2,"v":-5.4},{"s":2,"t":2.5,"v":-5.9},{"s":2,"t":3,"v":-6.5},{"s":2,"t":3.5,"v":-6.8},{"s":2,"t":4,"v":-7.1},{"s":2,"t":4.5,"v":-7.4},{"s":2,"t":5,"v":-7.6},{"s":2,"t":5.5,"v":-7.8},{"s":2,"t":5.8,"v":-7.9},{"s":2,"t":5.9,"v":-8.5},{"s":2,"t":6.1,"v":-8.0},{"s":2,"t":6.5,"v":-8.05},{"s":2,"t":7,"v":-8.1},{"s":2,"t":7.25,"v":-8.1},{"s":2,"t":7.35,"v":-7.35},{"s":2,"t":7.45,"v":-8.7},{"s":2,"t":7.8,"v":-8.4},{"s":2,"t":8.2,"v":-8.5},{"s":2,"t":8.4,"v":-8.6},{"s":2,"t":8.6,"v":-8.1},{"s":2,"t":9,"v":-7.9},{"s":2,"t":9.5,"v":-7.7},{"s":2,"t":10,"v":-7.5},{"s":2,"t":10.2,"v":-7.3},{"s":2,"t":10.5,"v":-7.4},{"s":2,"t":11,"v":-7.1},{"s":2,"t":11.3,"v":-6.9},{"s":2,"t":11.4,"v":-4.25},{"s":2,"t":11.5,"v":-6.8},{"s":2,"t":12,"v":-6.75},{"s":2,"t":12.5,"v":-6.6},{"s":2,"t":13,"v":-6.3},{"s":2,"t":13.5,"v":-5.95},{"s":2,"t":13.9,"v":-5.8},{"s":2,"t":14.05,"v":-4.0},{"s":2,"t":14.2,"v":-5.5},{"s":2,"t":14.6,"v":-5.35},{"s":2,"t":15,"v":-5.2},{"s":2,"t":15.5,"v":-5.0},{"s":2,"t":15.75,"v":-4.8},{"s":2,"t":15.9,"v":-3.7},{"s":2,"t":16.05,"v":-4.6},{"s":2,"t":16.5,"v":-4.4},{"s":2,"t":17,"v":-4.2},{"s":2,"t":17.15,"v":-3.6},{"s":2,"t":17.3,"v":-2.4},{"s":2,"t":17.45,"v":-3.5},{"s":2,"t":18,"v":-3.2},{"s":2,"t":18.5,"v":-3.05},{"s":2,"t":19,"v":-2.8},{"s":2,"t":19.5,"v":-2.6},{"s":2,"t":20,"v":-2.4},{"s":2,"t":20.5,"v":-2.15},{"s":2,"t":21,"v":-1.95},{"s":2,"t":21.4,"v":-1.4},{"s":2,"t":21.6,"v":-0.5},{"s":2,"t":21.8,"v":0.38},{"s":2,"t":21.95,"v":-0.2},{"s":2,"t":22.1,"v":-0.75},{"s":2,"t":22.5,"v":-0.5},{"s":2,"t":23,"v":-0.3},{"s":2,"t":23.5,"v":-0.05},{"s":2,"t":24,"v":0.27},{"s":2,"t":24.5,"v":0.55},{"s":2,"t":25,"v":0.93},{"s":2,"t":25.5,"v":1.2},{"s":2,"t":26,"v":1.5},{"s":2,"t":26.5,"v":1.9},{"s":2,"t":27,"v":2.4},{"s":2,"t":27.5,"v":2.8},{"s":2,"t":28,"v":3.27},{"s":2,"t":28.5,"v":3.7},{"s":2,"t":29,"v":4.2},{"s":2,"t":29.5,"v":4.75},{"s":2,"t":30,"v":5.15},{"s":2,"t":30.5,"v":5.35},{"s":2,"t":31,"v":5.5},{"s":2,"t":31.5,"v":5.7},{"s":2,"t":32,"v":5.95},{"s":2,"t":32.5,"v":6.1},{"s":2,"t":33,"v":6.3},{"s":2,"t":33.5,"v":6.55},{"s":2,"t":34,"v":6.8},{"s":2,"t":34.5,"v":7.05},{"s":2,"t":35,"v":7.35},
{"s":3,"t":0,"v":-1.0},{"s":3,"t":0.4,"v":-1.1},{"s":3,"t":0.8,"v":-1.4},{"s":3,"t":1.2,"v":-1.9},{"s":3,"t":1.6,"v":-2.2},{"s":3,"t":2,"v":-2.5},{"s":3,"t":2.5,"v":-2.9},{"s":3,"t":3,"v":-3.3},{"s":3,"t":3.5,"v":-3.6},{"s":3,"t":4,"v":-3.9},{"s":3,"t":4.5,"v":-4.1},{"s":3,"t":5,"v":-4.3},{"s":3,"t":5.5,"v":-4.5},{"s":3,"t":5.8,"v":-4.6},{"s":3,"t":5.9,"v":-5.2},{"s":3,"t":6.1,"v":-4.6},{"s":3,"t":6.5,"v":-4.4},{"s":3,"t":7,"v":-4.3},{"s":3,"t":7.25,"v":-4.2},{"s":3,"t":7.35,"v":-3.35},{"s":3,"t":7.45,"v":-4.9},{"s":3,"t":7.8,"v":-4.7},{"s":3,"t":8.2,"v":-4.5},{"s":3,"t":8.7,"v":-4.3},{"s":3,"t":9,"v":-4.2},{"s":3,"t":9.5,"v":-4.15},{"s":3,"t":10,"v":-4.05},{"s":3,"t":10.5,"v":-3.95},{"s":3,"t":11,"v":-3.8},{"s":3,"t":11.4,"v":-3.65},{"s":3,"t":11.5,"v":-0.95},{"s":3,"t":11.6,"v":-3.65},{"s":3,"t":12,"v":-3.5},{"s":3,"t":12.5,"v":-3.35},{"s":3,"t":13,"v":-3.2},{"s":3,"t":13.4,"v":-2.95},{"s":3,"t":13.6,"v":-1.3},{"s":3,"t":13.8,"v":-2.85},{"s":3,"t":14.2,"v":-2.7},{"s":3,"t":14.6,"v":-2.55},{"s":3,"t":15,"v":-2.35},{"s":3,"t":15.3,"v":-2.2},{"s":3,"t":15.4,"v":-0.9},{"s":3,"t":15.55,"v":-2.1},{"s":3,"t":16,"v":-1.8},{"s":3,"t":16.4,"v":-1.6},{"s":3,"t":16.6,"v":-0.22},{"s":3,"t":16.8,"v":-1.55},{"s":3,"t":17.3,"v":-1.25},{"s":3,"t":18,"v":-1.0},{"s":3,"t":18.5,"v":-0.85},{"s":3,"t":19,"v":-0.6},{"s":3,"t":19.5,"v":-0.35},{"s":3,"t":20,"v":-0.1},{"s":3,"t":20.5,"v":0.15},{"s":3,"t":21,"v":0.4},{"s":3,"t":21.5,"v":0.6},{"s":3,"t":22,"v":0.85},{"s":3,"t":22.4,"v":1.2},{"s":3,"t":22.55,"v":2.2},{"s":3,"t":22.7,"v":2.9},{"s":3,"t":22.85,"v":2.2},{"s":3,"t":23,"v":1.7},{"s":3,"t":23.5,"v":1.85},{"s":3,"t":24,"v":2.1},{"s":3,"t":24.5,"v":2.4},{"s":3,"t":25,"v":2.7},{"s":3,"t":25.5,"v":2.85},{"s":3,"t":26,"v":3.05},{"s":3,"t":26.5,"v":3.25},{"s":3,"t":27,"v":3.5},{"s":3,"t":27.5,"v":3.65},{"s":3,"t":28,"v":3.85},{"s":3,"t":28.5,"v":4.05},{"s":3,"t":29,"v":4.2},{"s":3,"t":29.5,"v":4.4},{"s":3,"t":30,"v":4.6},{"s":3,"t":30.5,"v":4.7},{"s":3,"t":31,"v":4.8},{"s":3,"t":31.5,"v":4.9},{"s":3,"t":32,"v":5.05},{"s":3,"t":32.5,"v":5.15},{"s":3,"t":33,"v":5.3},{"s":3,"t":33.5,"v":5.45},{"s":3,"t":34,"v":5.6},{"s":3,"t":34.5,"v":5.75},{"s":3,"t":35,"v":5.9}
],
"bl":[
{"s":1,"t":0,"v":-1.95},{"s":1,"t":0.3,"v":-1.8},{"s":1,"t":1,"v":-1.75},{"s":1,"t":2,"v":-1.6},{"s":1,"t":3,"v":-1.52},{"s":1,"t":3.5,"v":-1.6},{"s":1,"t":3.8,"v":-1.55},{"s":1,"t":4.3,"v":-1.2},{"s":1,"t":5,"v":-0.9},{"s":1,"t":6,"v":-0.6},{"s":1,"t":6.5,"v":-0.45},{"s":1,"t":6.6,"v":-0.83},{"s":1,"t":6.8,"v":-0.35},{"s":1,"t":7.5,"v":-0.2},{"s":1,"t":7.9,"v":-0.2},{"s":1,"t":8.0,"v":0.36},{"s":1,"t":8.1,"v":-0.2},{"s":1,"t":9.0,"v":-0.1},{"s":1,"t":9.1,"v":2.6},{"s":1,"t":9.2,"v":-0.2},{"s":1,"t":10,"v":-0.3},{"s":1,"t":11,"v":-0.25},{"s":1,"t":11.3,"v":-0.3},{"s":1,"t":11.4,"v":0.97},{"s":1,"t":11.5,"v":-0.2},{"s":1,"t":11.65,"v":7.76},{"s":1,"t":11.8,"v":-0.5},{"s":1,"t":12.3,"v":-0.6},{"s":1,"t":12.4,"v":-0.35},{"s":1,"t":12.5,"v":-0.8},{"s":1,"t":12.9,"v":-0.9},{"s":1,"t":13.05,"v":0.55},{"s":1,"t":13.2,"v":-1.0},{"s":1,"t":14.0,"v":-1.1},{"s":1,"t":14.6,"v":-1.2},{"s":1,"t":14.8,"v":0.81},{"s":1,"t":15.0,"v":-1.2},{"s":1,"t":16,"v":-1.4},{"s":1,"t":16.8,"v":-1.5},{"s":1,"t":16.95,"v":-0.07},{"s":1,"t":17.15,"v":-1.6},{"s":1,"t":18,"v":-1.8},{"s":1,"t":19,"v":-1.9},{"s":1,"t":20,"v":-1.85},{"s":1,"t":20.5,"v":-2.0},{"s":1,"t":21,"v":-2.1},{"s":1,"t":21.5,"v":-2.3},{"s":1,"t":22,"v":-2.75},{"s":1,"t":23,"v":-2.95},{"s":1,"t":24,"v":-3.1},{"s":1,"t":25,"v":-3.1},{"s":1,"t":25.1,"v":-2.92},{"s":1,"t":26,"v":-3.45},{"s":1,"t":26.5,"v":-3.7},{"s":1,"t":27.0,"v":-4.06},{"s":1,"t":27.3,"v":-3.7},{"s":1,"t":27.6,"v":-3.4},{"s":1,"t":28.5,"v":-3.6},{"s":1,"t":29.5,"v":-3.8},{"s":1,"t":30.0,"v":-3.9},{"s":1,"t":30.2,"v":-4.36},{"s":1,"t":30.5,"v":-4.1},{"s":1,"t":31.2,"v":-3.9},{"s":1,"t":31.5,"v":-3.7},{"s":1,"t":32,"v":-3.7},{"s":1,"t":33,"v":-3.62},{"s":1,"t":34,"v":-3.56},{"s":1,"t":34.8,"v":-3.5},{"s":1,"t":35,"v":-4.0},
{"s":2,"t":0,"v":5.15},{"s":2,"t":0.1,"v":4.65},{"s":2,"t":0.5,"v":4.8},{"s":2,"t":1,"v":5.25},{"s":2,"t":1.3,"v":5.3},{"s":2,"t":1.4,"v":4.9},{"s":2,"t":1.7,"v":4.9},{"s":2,"t":2,"v":5.3},{"s":2,"t":2.5,"v":5.7},{"s":2,"t":3,"v":6.0},{"s":2,"t":3.4,"v":6.3},{"s":2,"t":3.6,"v":6.9},{"s":2,"t":3.7,"v":7.0},{"s":2,"t":3.8,"v":8.05},{"s":2,"t":4.0,"v":7.8},{"s":2,"t":4.2,"v":6.8},{"s":2,"t":4.5,"v":6.6},{"s":2,"t":5,"v":6.6},{"s":2,"t":5.2,"v":7.4},{"s":2,"t":5.5,"v":7.3},{"s":2,"t":5.6,"v":7.6},{"s":2,"t":5.8,"v":7.4},{"s":2,"t":6.1,"v":7.6},{"s":2,"t":6.2,"v":8.95},{"s":2,"t":6.5,"v":8.9},{"s":2,"t":6.6,"v":7.5},{"s":2,"t":6.7,"v":6.4},{"s":2,"t":6.9,"v":7.0},{"s":2,"t":7.5,"v":7.2},{"s":2,"t":7.9,"v":7.4},{"s":2,"t":8.0,"v":8.15},{"s":2,"t":8.1,"v":7.5},{"s":2,"t":8.3,"v":7.7},{"s":2,"t":8.6,"v":8.0},{"s":2,"t":8.9,"v":8.6},{"s":2,"t":9.1,"v":9.65},{"s":2,"t":9.3,"v":8.7},{"s":2,"t":9.7,"v":8.4},{"s":2,"t":9.95,"v":8.0},{"s":2,"t":10.05,"v":8.3},{"s":2,"t":10.3,"v":7.8},{"s":2,"t":10.8,"v":7.3},{"s":2,"t":11.1,"v":7.2},{"s":2,"t":11.25,"v":8.5},{"s":2,"t":11.4,"v":7.2},{"s":2,"t":11.6,"v":7.3},{"s":2,"t":11.75,"v":15.25},{"s":2,"t":11.9,"v":7.3},{"s":2,"t":12.2,"v":7.4},{"s":2,"t":12.5,"v":7.5},{"s":2,"t":12.6,"v":7.9},{"s":2,"t":12.75,"v":7.7},{"s":2,"t":12.9,"v":8.95},{"s":2,"t":13.1,"v":7.6},{"s":2,"t":14.0,"v":7.7},{"s":2,"t":14.2,"v":7.8},{"s":2,"t":14.35,"v":9.9},{"s":2,"t":14.5,"v":7.75},{"s":2,"t":16.2,"v":7.7},{"s":2,"t":16.5,"v":9.4},{"s":2,"t":16.7,"v":7.8},{"s":2,"t":17.5,"v":7.8},{"s":2,"t":18.5,"v":7.95},{"s":2,"t":19,"v":8.0},{"s":2,"t":20,"v":8.15},{"s":2,"t":21,"v":8.2},{"s":2,"t":22,"v":8.3},{"s":2,"t":23,"v":8.32},{"s":2,"t":24,"v":8.25},{"s":2,"t":25,"v":8.15},{"s":2,"t":26,"v":8.1},{"s":2,"t":27,"v":8.05},{"s":2,"t":28,"v":8.0},{"s":2,"t":29,"v":7.95},{"s":2,"t":30,"v":7.9},{"s":2,"t":31,"v":7.85},{"s":2,"t":32,"v":7.8},{"s":2,"t":33,"v":7.78},{"s":2,"t":34,"v":7.75},{"s":2,"t":35,"v":7.7},
{"s":3,"t":0,"v":2.05},{"s":3,"t":0.5,"v":1.9},{"s":3,"t":1.0,"v":1.68},{"s":3,"t":1.5,"v":1.75},{"s":3,"t":2,"v":1.85},{"s":3,"t":3,"v":1.9},{"s":3,"t":4,"v":1.9},{"s":3,"t":5,"v":1.88},{"s":3,"t":6.2,"v":1.85},{"s":3,"t":6.4,"v":1.6},{"s":3,"t":6.6,"v":1.26},{"s":3,"t":6.8,"v":1.85},{"s":3,"t":7.8,"v":1.9},{"s":3,"t":8.0,"v":2.63},{"s":3,"t":8.15,"v":1.9},{"s":3,"t":9.0,"v":1.88},{"s":3,"t":9.1,"v":4.7},{"s":3,"t":9.2,"v":1.8},{"s":3,"t":10,"v":1.72},{"s":3,"t":11,"v":1.78},{"s":3,"t":11.15,"v":1.85},{"s":3,"t":11.22,"v":3.73},{"s":3,"t":11.3,"v":1.9},{"s":3,"t":11.5,"v":2.0},{"s":3,"t":11.7,"v":9.45},{"s":3,"t":11.85,"v":1.9},{"s":3,"t":12.3,"v":1.9},{"s":3,"t":12.45,"v":2.2},{"s":3,"t":12.6,"v":1.9},{"s":3,"t":12.9,"v":1.95},{"s":3,"t":13.05,"v":3.32},{"s":3,"t":13.2,"v":1.9},{"s":3,"t":14.0,"v":2.0},{"s":3,"t":14.6,"v":1.95},{"s":3,"t":14.8,"v":4.01},{"s":3,"t":15.0,"v":1.95},{"s":3,"t":16.8,"v":1.9},{"s":3,"t":17.0,"v":3.32},{"s":3,"t":17.2,"v":1.9},{"s":3,"t":18.5,"v":1.88},{"s":3,"t":19.9,"v":1.9},{"s":3,"t":20.0,"v":2.68},{"s":3,"t":20.15,"v":1.95},{"s":3,"t":25.3,"v":1.95},{"s":3,"t":25.5,"v":2.61},{"s":3,"t":25.7,"v":1.95},{"s":3,"t":30,"v":2.0},{"s":3,"t":35,"v":2.0}
],
"br":[
{"s":1,"t":0,"v":5.75},{"s":1,"t":0.2,"v":5.88},{"s":1,"t":0.4,"v":5.7},{"s":1,"t":0.6,"v":5.65},{"s":1,"t":0.8,"v":5.55},{"s":1,"t":1.0,"v":5.45},{"s":1,"t":1.2,"v":5.3},{"s":1,"t":1.4,"v":5.42},{"s":1,"t":1.6,"v":5.25},{"s":1,"t":1.8,"v":5.3},{"s":1,"t":2.0,"v":5.1},{"s":1,"t":2.2,"v":5.15},{"s":1,"t":2.4,"v":4.95},{"s":1,"t":2.6,"v":4.9},{"s":1,"t":2.8,"v":4.98},{"s":1,"t":3.0,"v":4.8},{"s":1,"t":3.2,"v":4.85},{"s":1,"t":3.4,"v":4.68},{"s":1,"t":3.6,"v":4.6},{"s":1,"t":3.8,"v":4.72},{"s":1,"t":4.0,"v":4.45},{"s":1,"t":4.2,"v":4.5},{"s":1,"t":4.4,"v":4.35},{"s":1,"t":4.6,"v":4.42},{"s":1,"t":4.8,"v":4.25},{"s":1,"t":5.0,"v":4.35},{"s":1,"t":5.2,"v":4.22},{"s":1,"t":5.4,"v":4.3},{"s":1,"t":5.6,"v":4.2},{"s":1,"t":5.8,"v":4.28},{"s":1,"t":6.0,"v":4.15},{"s":1,"t":6.2,"v":4.25},{"s":1,"t":6.3,"v":3.75},{"s":1,"t":6.45,"v":4.15},{"s":1,"t":6.6,"v":4.35},{"s":1,"t":6.8,"v":4.5},{"s":1,"t":7.0,"v":4.4},{"s":1,"t":7.2,"v":4.55},{"s":1,"t":7.4,"v":4.35},{"s":1,"t":7.55,"v":4.45},{"s":1,"t":7.65,"v":5.3},{"s":1,"t":7.75,"v":4.15},{"s":1,"t":7.9,"v":4.25},{"s":1,"t":8.1,"v":4.1},{"s":1,"t":8.3,"v":4.35},{"s":1,"t":8.5,"v":4.2},{"s":1,"t":8.6,"v":4.3},{"s":1,"t":8.7,"v":4.98},{"s":1,"t":8.8,"v":4.2},{"s":1,"t":9.0,"v":4.35},{"s":1,"t":9.2,"v":4.25},{"s":1,"t":9.4,"v":4.4},{"s":1,"t":9.6,"v":4.3},{"s":1,"t":9.8,"v":4.45},{"s":1,"t":10.0,"v":4.3},{"s":1,"t":10.2,"v":4.5},{"s":1,"t":10.4,"v":4.3},{"s":1,"t":10.6,"v":4.4},{"s":1,"t":10.8,"v":4.28},{"s":1,"t":11.0,"v":4.42},{"s":1,"t":11.2,"v":4.35},{"s":1,"t":11.4,"v":4.45},{"s":1,"t":11.55,"v":7.3},{"s":1,"t":11.7,"v":4.4},{"s":1,"t":11.9,"v":4.45},{"s":1,"t":12.1,"v":4.35},{"s":1,"t":12.3,"v":4.5},{"s":1,"t":12.5,"v":4.3},{"s":1,"t":12.7,"v":4.4},{"s":1,"t":12.9,"v":4.55},{"s":1,"t":13.1,"v":4.75},{"s":1,"t":13.25,"v":4.8},{"s":1,"t":13.4,"v":6.55},{"s":1,"t":13.55,"v":4.75},{"s":1,"t":13.7,"v":4.65},{"s":1,"t":13.9,"v":4.6},{"s":1,"t":14.1,"v":4.75},{"s":1,"t":14.3,"v":4.7},{"s":1,"t":14.5,"v":4.82},{"s":1,"t":14.7,"v":4.78},{"s":1,"t":14.9,"v":4.9},{"s":1,"t":15.05,"v":4.85},{"s":1,"t":15.2,"v":6.39},{"s":1,"t":15.35,"v":4.95},{"s":1,"t":15.5,"v":4.85},{"s":1,"t":15.7,"v":4.95},{"s":1,"t":15.9,"v":4.9},{"s":1,"t":16.1,"v":5.0},{"s":1,"t":16.3,"v":6.91},{"s":1,"t":16.45,"v":5.0},{"s":1,"t":16.6,"v":5.1},{"s":1,"t":16.8,"v":5.0},{"s":1,"t":17.0,"v":5.12},{"s":1,"t":17.2,"v":5.05},{"s":1,"t":17.4,"v":5.2},{"s":1,"t":17.6,"v":5.1},{"s":1,"t":17.8,"v":5.25},{"s":1,"t":18.0,"v":5.15},{"s":1,"t":18.2,"v":5.22},{"s":1,"t":18.4,"v":5.1},{"s":1,"t":18.6,"v":5.25},{"s":1,"t":18.8,"v":5.15},{"s":1,"t":19.0,"v":5.2},{"s":1,"t":19.2,"v":5.08},{"s":1,"t":19.4,"v":5.15},{"s":1,"t":19.6,"v":5.0},{"s":1,"t":19.8,"v":4.95},{"s":1,"t":20.0,"v":5.05},{"s":1,"t":20.2,"v":4.88},{"s":1,"t":20.4,"v":4.95},{"s":1,"t":20.6,"v":4.85},{"s":1,"t":20.8,"v":5.0},{"s":1,"t":21.0,"v":4.9},{"s":1,"t":21.2,"v":5.0},{"s":1,"t":21.4,"v":4.95},{"s":1,"t":21.6,"v":5.05},{"s":1,"t":21.8,"v":5.25},{"s":1,"t":22.0,"v":7.16},{"s":1,"t":22.15,"v":6.6},{"s":1,"t":22.3,"v":5.1},{"s":1,"t":22.45,"v":4.95},{"s":1,"t":22.6,"v":5.2},{"s":1,"t":22.8,"v":5.15},{"s":1,"t":23.0,"v":5.25},{"s":1,"t":23.2,"v":5.2},{"s":1,"t":23.4,"v":5.35},{"s":1,"t":23.6,"v":5.22},{"s":1,"t":23.75,"v":5.2},{"s":1,"t":23.85,"v":6.37},{"s":1,"t":23.95,"v":5.15},{"s":1,"t":24.2,"v":5.1},{"s":1,"t":24.4,"v":5.22},{"s":1,"t":24.6,"v":5.15},{"s":1,"t":24.8,"v":5.25},{"s":1,"t":25.0,"v":5.2},{"s":1,"t":25.2,"v":5.3},{"s":1,"t":25.4,"v":5.18},{"s":1,"t":25.6,"v":5.35},{"s":1,"t":25.8,"v":5.25},{"s":1,"t":26.0,"v":5.4},{"s":1,"t":26.2,"v":5.3},{"s":1,"t":26.4,"v":5.45},{"s":1,"t":26.6,"v":5.35},{"s":1,"t":26.8,"v":5.5},{"s":1,"t":27.0,"v":5.4},{"s":1,"t":27.2,"v":5.55},{"s":1,"t":27.4,"v":5.45},{"s":1,"t":27.6,"v":5.6},{"s":1,"t":27.8,"v":5.5},{"s":1,"t":28.0,"v":5.6},{"s":1,"t":28.2,"v":5.5},{"s":1,"t":28.4,"v":5.62},{"s":1,"t":28.6,"v":5.5},{"s":1,"t":28.8,"v":5.6},{"s":1,"t":29.0,"v":5.52},{"s":1,"t":29.2,"v":5.65},{"s":1,"t":29.4,"v":5.5},{"s":1,"t":29.6,"v":5.58},{"s":1,"t":29.8,"v":5.45},{"s":1,"t":30.0,"v":5.55},{"s":1,"t":30.2,"v":5.5},{"s":1,"t":30.4,"v":5.6},{"s":1,"t":30.6,"v":5.52},{"s":1,"t":30.8,"v":5.65},{"s":1,"t":31.0,"v":5.55},{"s":1,"t":31.2,"v":5.7},{"s":1,"t":31.4,"v":5.6},{"s":1,"t":31.6,"v":5.72},{"s":1,"t":31.8,"v":5.65},{"s":1,"t":32.0,"v":5.8},{"s":1,"t":32.2,"v":5.7},{"s":1,"t":32.4,"v":5.85},{"s":1,"t":32.6,"v":5.75},{"s":1,"t":32.8,"v":5.9},{"s":1,"t":33.0,"v":5.8},{"s":1,"t":33.2,"v":5.88},{"s":1,"t":33.4,"v":5.75},{"s":1,"t":33.6,"v":5.95},{"s":1,"t":33.8,"v":5.82},{"s":1,"t":34.0,"v":5.9},{"s":1,"t":34.2,"v":5.8},{"s":1,"t":34.4,"v":5.95},{"s":1,"t":34.6,"v":5.85},{"s":1,"t":34.8,"v":6.05},{"s":1,"t":35.0,"v":5.9},
{"s":2,"t":0,"v":2.0},{"s":2,"t":0.2,"v":1.92},{"s":2,"t":0.4,"v":1.98},{"s":2,"t":0.6,"v":1.82},{"s":2,"t":0.8,"v":1.88},{"s":2,"t":1.0,"v":1.7},{"s":2,"t":1.2,"v":1.78},{"s":2,"t":1.4,"v":1.6},{"s":2,"t":1.6,"v":1.68},{"s":2,"t":1.8,"v":1.52},{"s":2,"t":2.0,"v":1.6},{"s":2,"t":2.2,"v":1.45},{"s":2,"t":2.4,"v":1.55},{"s":2,"t":2.6,"v":1.42},{"s":2,"t":2.8,"v":1.5},{"s":2,"t":3.0,"v":1.4},{"s":2,"t":3.2,"v":1.52},{"s":2,"t":3.4,"v":1.38},{"s":2,"t":3.6,"v":1.48},{"s":2,"t":3.8,"v":1.35},{"s":2,"t":4.0,"v":1.45},{"s":2,"t":4.2,"v":1.32},{"s":2,"t":4.4,"v":1.42},{"s":2,"t":4.6,"v":1.3},{"s":2,"t":4.8,"v":1.4},{"s":2,"t":5.0,"v":1.32},{"s":2,"t":5.2,"v":1.45},{"s":2,"t":5.4,"v":1.35},{"s":2,"t":5.6,"v":1.48},{"s":2,"t":5.8,"v":1.4},{"s":2,"t":6.0,"v":1.5},{"s":2,"t":6.1,"v":1.3},{"s":2,"t":6.2,"v":1.05},{"s":2,"t":6.35,"v":1.4},{"s":2,"t":6.5,"v":1.55},{"s":2,"t":6.7,"v":1.45},{"s":2,"t":6.9,"v":1.6},{"s":2,"t":7.1,"v":1.5},{"s":2,"t":7.3,"v":1.55},{"s":2,"t":7.45,"v":1.5},{"s":2,"t":7.6,"v":2.53},{"s":2,"t":7.72,"v":1.25},{"s":2,"t":7.9,"v":1.35},{"s":2,"t":8.1,"v":1.2},{"s":2,"t":8.3,"v":1.35},{"s":2,"t":8.5,"v":1.25},{"s":2,"t":8.7,"v":1.4},{"s":2,"t":8.9,"v":1.45},{"s":2,"t":9.1,"v":1.55},{"s":2,"t":9.3,"v":1.5},{"s":2,"t":9.5,"v":1.65},{"s":2,"t":9.7,"v":1.6},{"s":2,"t":9.9,"v":1.75},{"s":2,"t":10.1,"v":1.7},{"s":2,"t":10.3,"v":2.0},{"s":2,"t":10.5,"v":1.8},{"s":2,"t":10.7,"v":1.9},{"s":2,"t":10.9,"v":1.75},{"s":2,"t":11.1,"v":1.85},{"s":2,"t":11.25,"v":1.8},{"s":2,"t":11.4,"v":4.49},{"s":2,"t":11.55,"v":1.9},{"s":2,"t":11.7,"v":1.8},{"s":2,"t":11.9,"v":1.9},{"s":2,"t":12.1,"v":1.8},{"s":2,"t":12.3,"v":1.88},{"s":2,"t":12.5,"v":1.78},{"s":2,"t":12.7,"v":1.9},{"s":2,"t":12.9,"v":1.82},{"s":2,"t":13.1,"v":1.9},{"s":2,"t":13.3,"v":1.78},{"s":2,"t":13.55,"v":3.28},{"s":2,"t":13.75,"v":1.85},{"s":2,"t":13.9,"v":1.75},{"s":2,"t":14.1,"v":1.7},{"s":2,"t":14.3,"v":1.78},{"s":2,"t":14.5,"v":1.68},{"s":2,"t":14.7,"v":1.75},{"s":2,"t":14.9,"v":1.6},{"s":2,"t":15.1,"v":1.7},{"s":2,"t":15.3,"v":2.82},{"s":2,"t":15.45,"v":1.7},{"s":2,"t":15.6,"v":1.6},{"s":2,"t":15.8,"v":1.68},{"s":2,"t":16.0,"v":1.58},{"s":2,"t":16.2,"v":1.65},{"s":2,"t":16.5,"v":3.28},{"s":2,"t":16.7,"v":1.7},{"s":2,"t":16.9,"v":1.6},{"s":2,"t":17.1,"v":1.65},{"s":2,"t":17.3,"v":1.55},{"s":2,"t":17.5,"v":1.62},{"s":2,"t":17.7,"v":1.52},{"s":2,"t":17.9,"v":1.6},{"s":2,"t":18.1,"v":1.55},{"s":2,"t":18.3,"v":1.62},{"s":2,"t":18.5,"v":1.45},{"s":2,"t":18.7,"v":1.35},{"s":2,"t":18.9,"v":1.45},{"s":2,"t":19.1,"v":1.28},{"s":2,"t":19.3,"v":1.4},{"s":2,"t":19.5,"v":1.25},{"s":2,"t":19.7,"v":1.35},{"s":2,"t":19.9,"v":1.28},{"s":2,"t":20.1,"v":1.38},{"s":2,"t":20.3,"v":1.25},{"s":2,"t":20.5,"v":1.35},{"s":2,"t":20.7,"v":1.45},{"s":2,"t":20.85,"v":2.4},{"s":2,"t":21.0,"v":2.91},{"s":2,"t":21.1,"v":2.7},{"s":2,"t":21.25,"v":1.5},{"s":2,"t":21.4,"v":1.35},{"s":2,"t":21.6,"v":1.45},{"s":2,"t":21.8,"v":1.38},{"s":2,"t":22.0,"v":1.5},{"s":2,"t":22.2,"v":1.4},{"s":2,"t":22.4,"v":1.55},{"s":2,"t":22.6,"v":1.45},{"s":2,"t":22.8,"v":1.5},{"s":2,"t":23.0,"v":2.16},{"s":2,"t":23.15,"v":1.45},{"s":2,"t":23.3,"v":1.6},{"s":2,"t":23.5,"v":1.5},{"s":2,"t":23.7,"v":1.65},{"s":2,"t":23.9,"v":1.55},{"s":2,"t":24.1,"v":1.62},{"s":2,"t":24.3,"v":1.5},{"s":2,"t":24.5,"v":1.65},{"s":2,"t":24.7,"v":1.55},{"s":2,"t":24.9,"v":1.68},{"s":2,"t":25.1,"v":1.6},{"s":2,"t":25.3,"v":1.7},{"s":2,"t":25.5,"v":1.55},{"s":2,"t":25.7,"v":1.62},{"s":2,"t":25.9,"v":1.5},{"s":2,"t":26.1,"v":1.6},{"s":2,"t":26.3,"v":1.55},{"s":2,"t":26.5,"v":1.7},{"s":2,"t":26.7,"v":1.6},{"s":2,"t":26.9,"v":1.75},{"s":2,"t":27.1,"v":1.65},{"s":2,"t":27.3,"v":1.8},{"s":2,"t":27.5,"v":1.68},{"s":2,"t":27.7,"v":1.78},{"s":2,"t":27.9,"v":1.7},{"s":2,"t":28.1,"v":1.82},{"s":2,"t":28.3,"v":1.72},{"s":2,"t":28.5,"v":1.85},{"s":2,"t":28.7,"v":1.75},{"s":2,"t":28.9,"v":1.9},{"s":2,"t":29.1,"v":1.8},{"s":2,"t":29.3,"v":1.88},{"s":2,"t":29.5,"v":1.78},{"s":2,"t":29.7,"v":1.92},{"s":2,"t":29.9,"v":1.85},{"s":2,"t":30.1,"v":1.95},{"s":2,"t":30.3,"v":1.82},{"s":2,"t":30.5,"v":1.92},{"s":2,"t":30.7,"v":1.85},{"s":2,"t":30.9,"v":1.98},{"s":2,"t":31.1,"v":1.85},{"s":2,"t":31.3,"v":1.95},{"s":2,"t":31.5,"v":1.88},{"s":2,"t":31.7,"v":2.0},{"s":2,"t":31.9,"v":1.9},{"s":2,"t":32.1,"v":1.98},{"s":2,"t":32.3,"v":1.88},{"s":2,"t":32.5,"v":2.02},{"s":2,"t":32.7,"v":1.9},{"s":2,"t":32.9,"v":2.0},{"s":2,"t":33.1,"v":1.92},{"s":2,"t":33.3,"v":2.05},{"s":2,"t":33.5,"v":1.95},{"s":2,"t":33.7,"v":2.08},{"s":2,"t":33.9,"v":1.95},{"s":2,"t":34.1,"v":2.05},{"s":2,"t":34.3,"v":1.95},{"s":2,"t":34.5,"v":2.15},{"s":2,"t":34.7,"v":1.98},{"s":2,"t":34.9,"v":2.2},{"s":2,"t":35.0,"v":2.0},
{"s":3,"t":0,"v":-1.2},{"s":3,"t":0.2,"v":-1.1},{"s":3,"t":0.4,"v":-1.25},{"s":3,"t":0.6,"v":-1.15},{"s":3,"t":0.8,"v":-1.3},{"s":3,"t":1.0,"v":-1.2},{"s":3,"t":1.2,"v":-1.32},{"s":3,"t":1.4,"v":-1.22},{"s":3,"t":1.6,"v":-1.35},{"s":3,"t":1.8,"v":-1.25},{"s":3,"t":2.0,"v":-1.4},{"s":3,"t":2.2,"v":-1.3},{"s":3,"t":2.4,"v":-1.42},{"s":3,"t":2.6,"v":-1.35},{"s":3,"t":2.8,"v":-1.48},{"s":3,"t":3.0,"v":-1.38},{"s":3,"t":3.2,"v":-1.5},{"s":3,"t":3.4,"v":-1.4},{"s":3,"t":3.6,"v":-1.52},{"s":3,"t":3.8,"v":-1.42},{"s":3,"t":4.0,"v":-1.55},{"s":3,"t":4.2,"v":-1.45},{"s":3,"t":4.4,"v":-1.55},{"s":3,"t":4.6,"v":-1.45},{"s":3,"t":4.8,"v":-1.62},{"s":3,"t":5.0,"v":-1.5},{"s":3,"t":5.2,"v":-1.6},{"s":3,"t":5.4,"v":-1.5},{"s":3,"t":5.6,"v":-1.65},{"s":3,"t":5.8,"v":-1.55},{"s":3,"t":6.0,"v":-1.65},{"s":3,"t":6.2,"v":-1.85},{"s":3,"t":6.35,"v":-1.6},{"s":3,"t":6.5,"v":-1.35},{"s":3,"t":6.7,"v":-1.25},{"s":3,"t":6.9,"v":-1.3},{"s":3,"t":7.1,"v":-1.2},{"s":3,"t":7.3,"v":-1.3},{"s":3,"t":7.48,"v":-1.25},{"s":3,"t":7.6,"v":-0.32},{"s":3,"t":7.72,"v":-1.65},{"s":3,"t":7.9,"v":-1.45},{"s":3,"t":8.1,"v":-1.4},{"s":3,"t":8.3,"v":-1.5},{"s":3,"t":8.5,"v":-1.3},{"s":3,"t":8.7,"v":-1.2},{"s":3,"t":8.9,"v":-1.1},{"s":3,"t":9.1,"v":-1.2},{"s":3,"t":9.3,"v":-1.15},{"s":3,"t":9.5,"v":-1.3},{"s":3,"t":9.7,"v":-1.2},{"s":3,"t":9.9,"v":-1.35},{"s":3,"t":10.1,"v":-1.28},{"s":3,"t":10.3,"v":-1.4},{"s":3,"t":10.5,"v":-1.3},{"s":3,"t":10.7,"v":-1.38},{"s":3,"t":10.9,"v":-1.3},{"s":3,"t":11.1,"v":-1.42},{"s":3,"t":11.3,"v":-1.35},{"s":3,"t":11.45,"v":-1.4},{"s":3,"t":11.55,"v":1.02},{"s":3,"t":11.68,"v":-1.45},{"s":3,"t":11.9,"v":-1.35},{"s":3,"t":12.1,"v":-1.45},{"s":3,"t":12.3,"v":-1.38},{"s":3,"t":12.5,"v":-1.5},{"s":3,"t":12.7,"v":-1.4},{"s":3,"t":12.9,"v":-1.45},{"s":3,"t":13.05,"v":-1.35},{"s":3,"t":13.2,"v":0.27},{"s":3,"t":13.38,"v":-1.45},{"s":3,"t":13.6,"v":-1.35},{"s":3,"t":13.8,"v":-1.42},{"s":3,"t":14.0,"v":-1.38},{"s":3,"t":14.2,"v":-1.45},{"s":3,"t":14.4,"v":-1.35},{"s":3,"t":14.6,"v":-1.42},{"s":3,"t":14.85,"v":-1.35},{"s":3,"t":15.05,"v":-0.28},{"s":3,"t":15.2,"v":-1.45},{"s":3,"t":15.4,"v":-1.35},{"s":3,"t":15.6,"v":-1.42},{"s":3,"t":15.8,"v":-1.35},{"s":3,"t":15.95,"v":-1.3},{"s":3,"t":16.1,"v":0.02},{"s":3,"t":16.25,"v":-0.6},{"s":3,"t":16.4,"v":-1.45},{"s":3,"t":16.6,"v":-1.7},{"s":3,"t":16.8,"v":-1.62},{"s":3,"t":17.0,"v":-1.75},{"s":3,"t":17.2,"v":-1.68},{"s":3,"t":17.4,"v":-1.85},{"s":3,"t":17.6,"v":-1.7},{"s":3,"t":17.8,"v":-1.78},{"s":3,"t":18.0,"v":-1.65},{"s":3,"t":18.2,"v":-1.75},{"s":3,"t":18.4,"v":-1.68},{"s":3,"t":18.6,"v":-1.8},{"s":3,"t":18.8,"v":-1.7},{"s":3,"t":19.0,"v":-1.75},{"s":3,"t":19.2,"v":-1.65},{"s":3,"t":19.4,"v":-1.72},{"s":3,"t":19.6,"v":-1.5},{"s":3,"t":19.8,"v":-1.3},{"s":3,"t":20.0,"v":-1.4},{"s":3,"t":20.2,"v":-1.3},{"s":3,"t":20.4,"v":-1.38},{"s":3,"t":20.6,"v":-1.28},{"s":3,"t":20.8,"v":-1.4},{"s":3,"t":21.0,"v":-1.3},{"s":3,"t":21.2,"v":-1.42},{"s":3,"t":21.4,"v":-1.35},{"s":3,"t":21.6,"v":-1.45},{"s":3,"t":21.8,"v":-1.3},{"s":3,"t":22.0,"v":-1.38},{"s":3,"t":22.2,"v":-1.1},{"s":3,"t":22.35,"v":-0.4},{"s":3,"t":22.5,"v":0.29},{"s":3,"t":22.62,"v":0.0},{"s":3,"t":22.75,"v":-1.0},{"s":3,"t":22.9,"v":-1.35},{"s":3,"t":23.1,"v":-1.5},{"s":3,"t":23.3,"v":-1.42},{"s":3,"t":23.5,"v":-1.55},{"s":3,"t":23.7,"v":-1.35},{"s":3,"t":23.9,"v":-1.4},{"s":3,"t":24.1,"v":-1.3},{"s":3,"t":24.25,"v":-0.3},{"s":3,"t":24.4,"v":-1.35},{"s":3,"t":24.6,"v":-1.25},{"s":3,"t":24.8,"v":-1.35},{"s":3,"t":25.0,"v":-1.22},{"s":3,"t":25.2,"v":-1.3},{"s":3,"t":25.4,"v":-1.2},{"s":3,"t":25.6,"v":-1.3},{"s":3,"t":25.8,"v":-1.18},{"s":3,"t":26.0,"v":-1.28},{"s":3,"t":26.2,"v":-1.15},{"s":3,"t":26.4,"v":-1.25},{"s":3,"t":26.6,"v":-1.12},{"s":3,"t":26.8,"v":-1.2},{"s":3,"t":27.0,"v":-1.0},{"s":3,"t":27.2,"v":-1.25},{"s":3,"t":27.4,"v":-1.15},{"s":3,"t":27.6,"v":-1.3},{"s":3,"t":27.8,"v":-1.2},{"s":3,"t":28.0,"v":-1.3},{"s":3,"t":28.2,"v":-1.18},{"s":3,"t":28.4,"v":-1.3},{"s":3,"t":28.6,"v":-1.2},{"s":3,"t":28.8,"v":-1.32},{"s":3,"t":29.0,"v":-1.22},{"s":3,"t":29.2,"v":-1.3},{"s":3,"t":29.4,"v":-1.2},{"s":3,"t":29.6,"v":-1.3},{"s":3,"t":29.8,"v":-1.22},{"s":3,"t":30.0,"v":-1.32},{"s":3,"t":30.2,"v":-1.25},{"s":3,"t":30.4,"v":-1.35},{"s":3,"t":30.6,"v":-1.22},{"s":3,"t":30.8,"v":-1.3},{"s":3,"t":31.0,"v":-1.2},{"s":3,"t":31.2,"v":-1.3},{"s":3,"t":31.4,"v":-1.18},{"s":3,"t":31.6,"v":-1.28},{"s":3,"t":31.8,"v":-1.2},{"s":3,"t":32.0,"v":-1.3},{"s":3,"t":32.2,"v":-1.2},{"s":3,"t":32.4,"v":-1.32},{"s":3,"t":32.6,"v":-1.05},{"s":3,"t":32.8,"v":-1.25},{"s":3,"t":33.0,"v":-1.2},{"s":3,"t":33.2,"v":-1.3},{"s":3,"t":33.4,"v":-1.22},{"s":3,"t":33.6,"v":-1.3},{"s":3,"t":33.8,"v":-1.2},{"s":3,"t":34.0,"v":-1.28},{"s":3,"t":34.2,"v":-1.18},{"s":3,"t":34.4,"v":-1.3},{"s":3,"t":34.6,"v":-1.22},{"s":3,"t":34.8,"v":-1.3},{"s":3,"t":35.0,"v":-1.2}
]
}
}
